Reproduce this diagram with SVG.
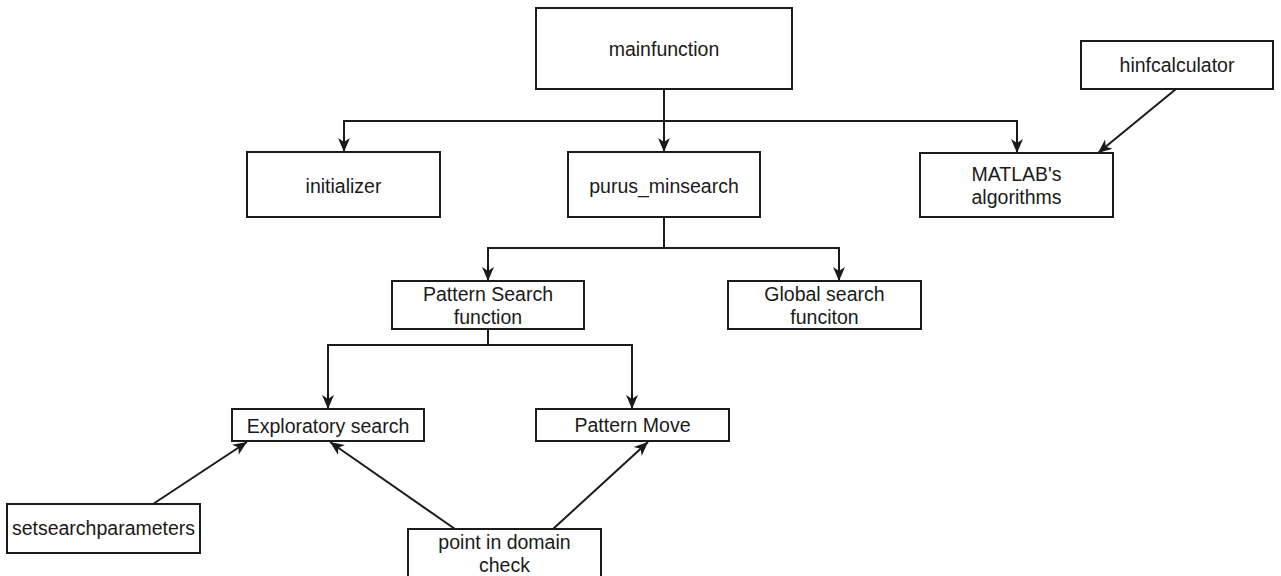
<svg xmlns="http://www.w3.org/2000/svg" width="1281" height="576" viewBox="0 0 1281 576">
<style>
.box{fill:#fff;stroke:#1a1a1a;stroke-width:2}
.lbl{font-family:"Liberation Sans",Arial,sans-serif;font-size:19.5px;fill:#1a1a1a;text-anchor:middle}
.edge{fill:none;stroke:#1a1a1a;stroke-width:2}
</style>
<defs>
<marker id="arr" markerUnits="userSpaceOnUse" markerWidth="14" markerHeight="12" refX="14" refY="6" orient="auto" overflow="visible">
<path d="M0,0 L14,6 L0,12 L4,6 Z" fill="#1a1a1a"/>
</marker>
</defs>
<rect width="1281" height="576" fill="#fff"/>
<g id="connectors">
<path class="edge" d="M664,89 V121 H344 V152" marker-end="url(#arr)"/>
<path class="edge" d="M664,121 V152" marker-end="url(#arr)"/>
<path class="edge" d="M664,121 H1017 V153" marker-end="url(#arr)"/>
<path class="edge" d="M1176,89 L1098,153" marker-end="url(#arr)"/>
<path class="edge" d="M664,217 V248 H488 V281" marker-end="url(#arr)"/>
<path class="edge" d="M664,248 H839 V281" marker-end="url(#arr)"/>
<path class="edge" d="M488,329 V345 H328 V409" marker-end="url(#arr)"/>
<path class="edge" d="M488,345 H632 V409" marker-end="url(#arr)"/>
<path class="edge" d="M153,504 L247,442" marker-end="url(#arr)"/>
<path class="edge" d="M455,529 L330,442" marker-end="url(#arr)"/>
<path class="edge" d="M553,529 L648,442" marker-end="url(#arr)"/>
</g>
<g id="mainfunction"><rect class="box" x="536" y="8" width="256" height="81"/><text class="lbl" x="664" y="56">mainfunction</text></g>
<g id="hinfcalculator"><rect class="box" x="1081" y="41" width="192" height="48"/><text class="lbl" x="1177" y="72">hinfcalculator</text></g>
<g id="initializer"><rect class="box" x="247" y="152" width="193" height="65"/><text class="lbl" x="343.5" y="193">initializer</text></g>
<g id="purus_minsearch"><rect class="box" x="568" y="152" width="192" height="65"/><text class="lbl" x="664" y="193">purus_minsearch</text></g>
<g id="matlab"><rect class="box" x="920" y="153" width="193" height="64"/><text class="lbl" x="1016.5" y="181">MATLAB's</text><text class="lbl" x="1016.5" y="204">algorithms</text></g>
<g id="pattern_search"><rect class="box" x="392" y="281" width="192" height="48"/><text class="lbl" x="488" y="301">Pattern Search</text><text class="lbl" x="488" y="324">function</text></g>
<g id="global_search"><rect class="box" x="728" y="281" width="193" height="48"/><text class="lbl" x="824.5" y="301">Global search</text><text class="lbl" x="824.5" y="324">funciton</text></g>
<g id="exploratory"><rect class="box" x="232" y="409" width="192" height="32"/><text class="lbl" x="328" y="433">Exploratory search</text></g>
<g id="pattern_move"><rect class="box" x="536" y="409" width="193" height="32"/><text class="lbl" x="632.5" y="432">Pattern Move</text></g>
<g id="setsearchparameters"><rect class="box" x="7" y="504" width="193" height="49"/><text class="lbl" x="103.5" y="535">setsearchparameters</text></g>
<g id="point_check"><rect class="box" x="408" y="529" width="193" height="62"/><text class="lbl" x="504.5" y="549">point in domain</text><text class="lbl" x="504.5" y="572">check</text></g>
</svg>
